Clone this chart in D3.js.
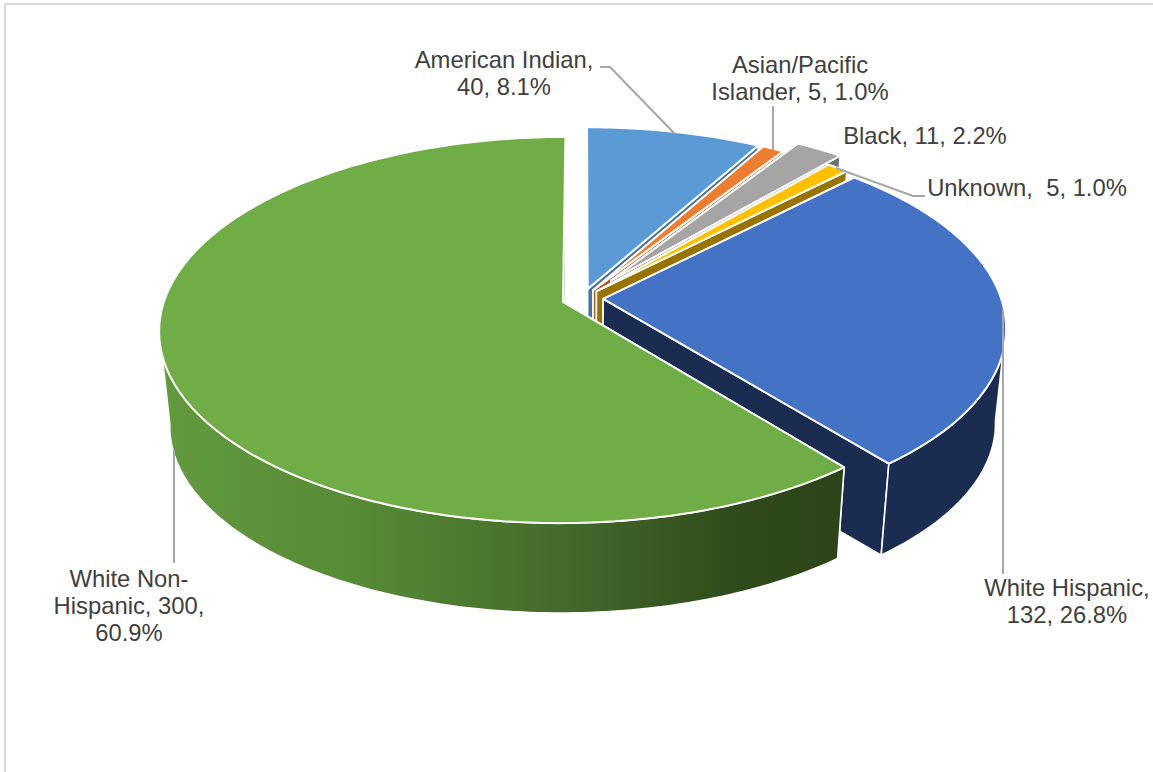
<!DOCTYPE html>
<html><head><meta charset="utf-8">
<script src="https://cdn.jsdelivr.net/npm/d3@7"></script>
<style>html,body{margin:0;padding:0;background:#fff;overflow:hidden}svg{display:block}text{font-family:"Liberation Sans",Arial,sans-serif;font-size:23.8px;fill:#404040}</style>
</head><body><svg id="c" width="1153" height="772"></svg>
<script>
const categories=["American Indian","Asian/Pacific Islander","Black","Unknown","White Hispanic","White Non-Hispanic"];
const counts=[40,5,11,5,132,300];
const topColors=["#5b9bd5","#ed7d31","#a5a5a5","#ffc000","#4472c4","#70ad47"];
const wallColors=["#44749f","#ae5a21","#6e6e6e","#997300","#1a2c50","url(#greenWall)"];
const explosions=[0.052,0.052,0.122,0.052,0.052,0.052];
const labelLines=[["American Indian,","40, 8.1%"],["Asian/Pacific","Islander, 5, 1.0%"],["Black, 11, 2.2%"],["Unknown,  5, 1.0%"],["White Hispanic,","132, 26.8%"],["White Non-","Hispanic, 300,","60.9%"]];
const labelCentres=[[504,60],[800,65],[925,136],[1027,188],[1067,588],[129,579]];
const leaders=[[[600,67],[610,67],[675,134]],[[773,106],[773,150]],[],[[836,168],[913,196],[925,196]],[[1003,310],[1003,574]],[[174,450],[174,563]]];
const svg=d3.select("#c");
svg.append("path").attr("d","M5,772V4H1153").attr("fill","none").attr("stroke","#d9d9d9").attr("stroke-width",2);
const defs=svg.append("defs");
const gr=defs.append("linearGradient").attr("id","greenWall").attr("gradientUnits","userSpaceOnUse").attr("x1",160).attr("x2",840).attr("y1",0).attr("y2",0);
[[0,"#639a3e"],[.3,"#568a36"],[.6,"#44692a"],[.85,"#2f4a1a"],[1,"#2d4418"]].forEach(s=>gr.append("stop").attr("offset",s[0]).attr("stop-color",s[1]));
const Cx=582.5,Cy=298.5,A=398,B=188,q=0.146,depth=95.5,shrink=0.975;
function proj(X,v,low){const w=1-q*v,s=low?shrink:1;return [Cx+s*A*X/w,Cy+(low?depth:0)+s*B*v/w];}
const pie=d3.pie().sort(null).value(d=>d)(counts);
const line=d3.line();
function sliceGeom(p,e){
  const mid=(p.startAngle+p.endAngle)/2,ox=e*Math.sin(mid),ov=-e*Math.cos(mid);
  const pt=(a,r,low)=>proj(ox+r*Math.sin(a),ov-r*Math.cos(a),low);
  const n=Math.max(4,Math.ceil((p.endAngle-p.startAngle)*60));
  const angs=d3.range(n+1).map(i=>p.startAngle+(p.endAngle-p.startAngle)*i/n);
  return {pt,angs};
}
const g=svg.append("g");
pie.forEach((p,i)=>{
  const {pt,angs}=sliceGeom(p,explosions[i]);
  const wall=d=>g.append("path").attr("d",line(d)+"Z").attr("fill",wallColors[i]).attr("stroke","#fff").attr("stroke-width",1.6).attr("stroke-linejoin","round");
  [p.startAngle,p.endAngle].forEach(a=>wall([pt(a,0,false),pt(a,1,false),pt(a,1,true),pt(a,0,true)]));
  const front=angs.filter(a=>-Math.cos(a)>q*0.9);
  if(front.length>1) wall(front.map(a=>pt(a,1,false)).concat(front.slice().reverse().map(a=>pt(a,1,true))));
  g.append("path").attr("d",line([pt(0,0,false)].concat(angs.map(a=>pt(a,1,false))))+"Z").attr("fill",topColors[i]).attr("stroke","#fff").attr("stroke-width",2).attr("stroke-linejoin","round");
});
leaders.forEach(l=>{if(l.length)svg.append("path").attr("d",line(l)).attr("fill","none").attr("stroke","#a6a6a6").attr("stroke-width",2);});
labelLines.forEach((ls,i)=>{
  const t=svg.append("text").attr("text-anchor","middle");
  ls.forEach((s,j)=>t.append("tspan").attr("x",labelCentres[i][0]).attr("y",labelCentres[i][1]+8+j*27).attr("xml:space","preserve").text(s));
});
</script></body></html>
